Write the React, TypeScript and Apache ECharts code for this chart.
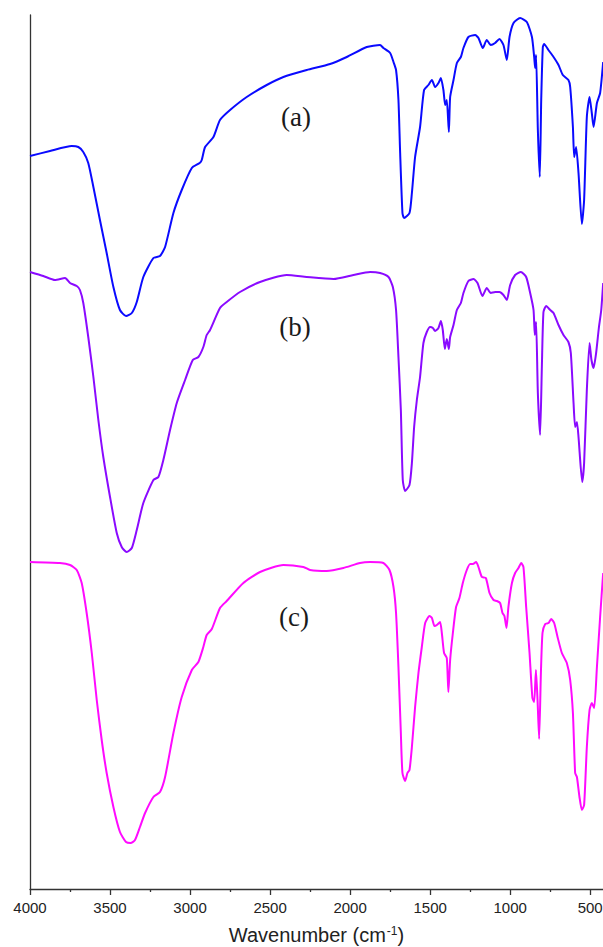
import React, { useEffect, useRef } from "react";
import * as echarts from "echarts";

// FTIR spectra: [wavenumber (cm-1), transmittance (arbitrary offset units)]
const spectrumA: [number, number][] = [
  [4000, 733], [3875, 738], [3739, 743], [3698, 742], [3667, 737], [3636, 726], [3604, 702],
  [3563, 669], [3521, 636], [3479, 602], [3438, 579], [3400, 573], [3364, 576], [3333, 587],
  [3292, 612], [3229, 631], [3188, 633], [3156, 642], [3104, 676], [3052, 699], [2989, 721],
  [2940, 726], [2927, 729], [2906, 742], [2854, 752], [2813, 769], [2750, 779], [2646, 792],
  [2521, 804], [2417, 812], [2271, 819], [2125, 825], [2021, 832], [1896, 842], [1813, 844],
  [1792, 841], [1750, 836], [1729, 827], [1713, 819], [1698, 789], [1688, 739], [1673, 676],
  [1663, 671], [1629, 676], [1614, 696], [1594, 732], [1563, 762], [1538, 799], [1511, 804],
  [1489, 809], [1469, 802], [1448, 806], [1433, 811], [1417, 799], [1406, 784], [1396, 789],
  [1383, 757], [1375, 792], [1354, 809], [1333, 826], [1308, 832], [1292, 841], [1261, 852],
  [1219, 854], [1198, 851], [1171, 841], [1146, 849], [1121, 844], [1094, 846], [1067, 850],
  [1042, 844], [1021, 829], [1004, 852], [979, 866], [938, 871], [896, 867], [864, 852],
  [850, 832], [844, 821], [838, 834], [827, 759], [815, 712], [806, 789], [796, 842],
  [788, 845], [761, 839], [729, 832], [698, 824], [671, 814], [636, 809], [625, 802],
  [608, 762], [600, 732], [588, 742], [573, 716], [552, 665], [538, 689], [521, 772],
  [504, 792], [490, 776], [479, 762], [458, 786], [438, 796], [419, 827],
];

const spectrumB: [number, number][] = [
  [4000, 617], [3917, 613], [3844, 609], [3781, 611], [3750, 606], [3708, 603], [3688, 599],
  [3667, 586], [3636, 552], [3604, 512], [3573, 469], [3542, 432], [3500, 392], [3458, 356],
  [3427, 342], [3396, 337], [3364, 341], [3333, 359], [3292, 386], [3229, 409], [3198, 412],
  [3167, 429], [3125, 459], [3083, 486], [3031, 509], [2983, 529], [2948, 532], [2917, 542],
  [2896, 554], [2875, 559], [2813, 581], [2771, 587], [2688, 597], [2563, 607], [2396, 614],
  [2271, 612], [2104, 610], [1979, 614], [1875, 617], [1813, 616], [1760, 612], [1733, 602],
  [1713, 579], [1698, 532], [1683, 479], [1671, 409], [1656, 398], [1629, 404], [1614, 426],
  [1600, 462], [1583, 489], [1563, 512], [1542, 546], [1521, 557], [1500, 562], [1483, 561],
  [1469, 558], [1448, 561], [1433, 568], [1421, 559], [1408, 540], [1396, 550], [1383, 540],
  [1375, 552], [1354, 564], [1333, 579], [1308, 586], [1292, 596], [1261, 608], [1229, 610],
  [1204, 606], [1173, 593], [1146, 601], [1121, 596], [1094, 597], [1067, 597], [1042, 594],
  [1021, 589], [1000, 604], [969, 614], [933, 617], [900, 612], [875, 596], [854, 579],
  [846, 554], [838, 567], [827, 496], [813, 454], [802, 522], [792, 577], [775, 583],
  [750, 579], [729, 576], [698, 564], [667, 554], [636, 547], [621, 536], [604, 486],
  [594, 462], [583, 467], [573, 452], [550, 407], [538, 426], [521, 499], [504, 546],
  [492, 529], [479, 521], [463, 536], [446, 561], [431, 579], [419, 606],
];

const spectrumC: [number, number][] = [
  [4000, 327], [3813, 326], [3750, 324], [3708, 319], [3677, 306], [3646, 276], [3614, 236],
  [3583, 189], [3552, 149], [3521, 116], [3479, 82], [3438, 57], [3400, 47], [3371, 46],
  [3344, 49], [3313, 62], [3281, 76], [3229, 92], [3188, 97], [3156, 112], [3104, 156],
  [3052, 192], [2989, 219], [2948, 227], [2917, 242], [2896, 254], [2864, 260], [2813, 281],
  [2771, 288], [2667, 306], [2563, 317], [2417, 324], [2292, 322], [2250, 319], [2146, 318],
  [2042, 321], [1938, 326], [1875, 327], [1792, 326], [1754, 319], [1729, 302], [1713, 276],
  [1698, 222], [1683, 156], [1673, 116], [1656, 108], [1642, 116], [1629, 119], [1614, 142],
  [1594, 182], [1573, 216], [1552, 242], [1531, 266], [1504, 273], [1489, 271], [1473, 263],
  [1458, 264], [1438, 267], [1427, 256], [1413, 236], [1396, 231], [1386, 197], [1375, 229],
  [1358, 256], [1338, 282], [1317, 291], [1296, 306], [1271, 319], [1250, 325], [1233, 325],
  [1213, 327], [1198, 322], [1177, 312], [1152, 311], [1129, 296], [1104, 289], [1083, 288],
  [1063, 286], [1048, 276], [1036, 273], [1023, 261], [1011, 282], [989, 306], [969, 316],
  [948, 321], [931, 326], [917, 322], [900, 282], [879, 236], [861, 191], [850, 187],
  [839, 219], [829, 189], [819, 150], [808, 216], [798, 256], [781, 265], [760, 266],
  [744, 270], [725, 266], [704, 252], [677, 236], [646, 226], [625, 209], [608, 176],
  [594, 116], [583, 112], [567, 92], [552, 79], [538, 84], [521, 142], [504, 179],
  [490, 186], [475, 181], [458, 222], [438, 272], [419, 316],
];

const seriesNames = ["(a)", "(b)", "(c)"];
const seriesColors = ["#0a0aff", "#8a0aff", "#ff0aff"];
const majorTicks = [4000, 3500, 3000, 2500, 2000, 1500, 1000, 500];
const minorTicks = [3750, 3250, 2750, 2250, 1750, 1250, 750];
const xMin = 420;
const xMax = 4000;

export default function App() {
  const ref = useRef<HTMLDivElement>(null);

  useEffect(() => {
    if (!ref.current) return;
    const chart = echarts.init(ref.current, undefined, { renderer: "svg" });
    const axisColor = "#333333";
    const grid = {
      left: 30,
      right: 0,
      top: 15,
      bottom: 58,
      containLabel: false,
      outerBoundsMode: "none",
    };
    const spectra = [spectrumA, spectrumB, spectrumC];
    const labelPos = [
      [296, 117],
      [295, 327],
      [294, 617],
    ];

    chart.setOption({
      animation: false,
      backgroundColor: "#ffffff",
      grid,
      xAxis: [
        {
          type: "value",
          inverse: true,
          min: xMin,
          max: xMax,
          position: "bottom",
          name: "Wavenumber (cm{sup|-1})",
          nameLocation: "middle",
          nameGap: 36,
          nameTextStyle: {
            fontFamily: "Liberation Sans, Arial, sans-serif",
            fontSize: 20,
            color: "#222222",
            rich: {
              sup: {
                fontFamily: "Liberation Sans, Arial, sans-serif",
                fontSize: 12,
                color: "#222222",
                verticalAlign: "top",
                padding: [0, 0, 8, 1],
              },
            },
          },
          axisLine: { show: true, onZero: false, lineStyle: { color: axisColor, width: 1.3 } },
          axisTick: {
            show: true,
            inside: false,
            length: 6,
            customValues: majorTicks,
            lineStyle: { color: axisColor, width: 1.3 },
          },
          axisLabel: {
            show: true,
            customValues: majorTicks,
            margin: 11,
            fontFamily: "Liberation Sans, Arial, sans-serif",
            fontSize: 15,
            color: "#222222",
            hideOverlap: false,
            formatter: (v: number) => String(v),
          },
          splitLine: { show: false },
          minorTick: { show: false },
        },
        {
          type: "value",
          inverse: true,
          min: xMin,
          max: xMax,
          position: "bottom",
          offset: 0,
          axisLine: { show: false },
          axisTick: {
            show: true,
            inside: false,
            length: 3,
            customValues: minorTicks,
            lineStyle: { color: axisColor, width: 1.3 },
          },
          axisLabel: { show: false },
          splitLine: { show: false },
        },
      ],
      yAxis: {
        type: "value",
        min: 0,
        max: 874,
        position: "left",
        axisLine: { show: true, onZero: false, lineStyle: { color: axisColor, width: 1.3 } },
        axisTick: { show: false },
        axisLabel: { show: false },
        splitLine: { show: false },
      },
      series: spectra.map((data, i) => ({
        name: seriesNames[i],
        type: "line",
        xAxisIndex: 0,
        data,
        showSymbol: false,
        smooth: 0.2,
        lineStyle: { color: seriesColors[i], width: 2 },
        itemStyle: { color: seriesColors[i] },
      })),
      graphic: seriesNames.map((n, i) => ({
        type: "text",
        x: labelPos[i][0],
        y: labelPos[i][1],
        style: {
          text: n,
          fontFamily: "Liberation Serif, Times New Roman, serif",
          fontSize: 27,
          fill: "#1a1a1a",
          align: "center",
          verticalAlign: "middle",
        },
      })),
    });

    return () => chart.dispose();
  }, []);

  return (
    <div
      ref={ref}
      style={{ position: "fixed", left: 0, top: 0, width: 603, height: 947 }}
    />
  );
}
